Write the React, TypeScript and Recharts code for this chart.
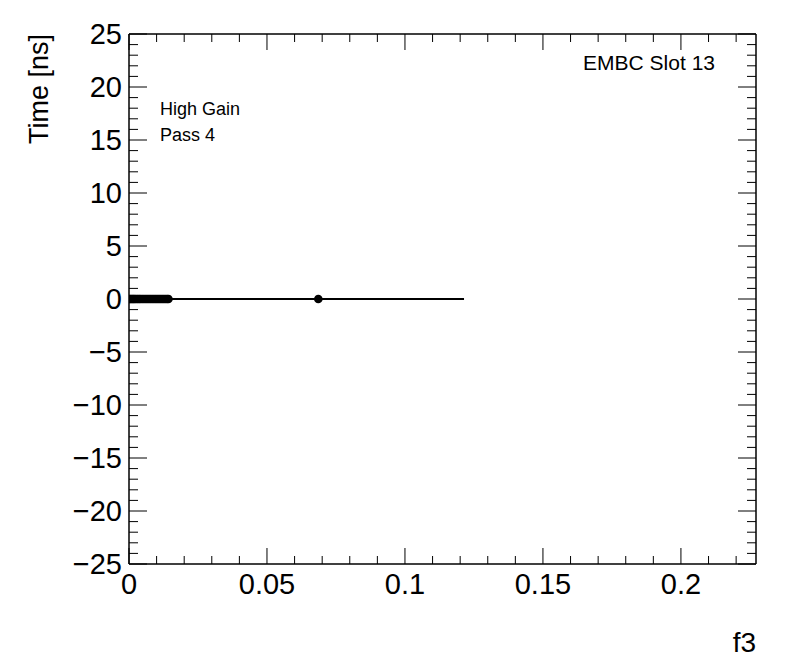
import React from "react";
import { ComposedChart, Scatter, XAxis, YAxis } from "recharts";

// measured points (f3 vs time), all sitting on zero
const pointX = [
  0.0002, 0.0006, 0.001, 0.0014, 0.0018, 0.0022, 0.0027, 0.0032, 0.0037, 0.0042,
  0.0048, 0.0054, 0.006, 0.0066, 0.0072, 0.0078, 0.0084, 0.009, 0.0096, 0.0102,
  0.0108, 0.0114, 0.012, 0.0126, 0.0132, 0.0138, 0.0143, 0.0686,
];
const pointY = [
  0, 0, 0, 0, 0, 0, 0, 0, 0, 0, 0, 0, 0, 0, 0, 0, 0, 0, 0, 0, 0, 0, 0, 0, 0, 0, 0, 0,
];
// fitted line
const fitX = [0, 0.1214];
const fitY = [0, 0];

const xMajor = [0, 0.05, 0.1, 0.15, 0.2];
const xTicks = [
  0, 0.01, 0.02, 0.03, 0.04, 0.05, 0.06, 0.07, 0.08, 0.09, 0.1, 0.11, 0.12, 0.13, 0.14,
  0.15, 0.16, 0.17, 0.18, 0.19, 0.2, 0.21, 0.22,
];
const yMajor = [-25, -20, -15, -10, -5, 0, 5, 10, 15, 20, 25];
const yTicks = [
  -25, -24, -23, -22, -21, -20, -19, -18, -17, -16, -15, -14, -13, -12, -11, -10, -9, -8,
  -7, -6, -5, -4, -3, -2, -1, 0, 1, 2, 3, 4, 5, 6, 7, 8, 9, 10, 11, 12, 13, 14, 15, 16,
  17, 18, 19, 20, 21, 22, 23, 24, 25,
];

const W = 796;
const H = 672;
const LEFT = 129;
const RIGHT = 756;
const TOP = 34;
const BOTTOM = 564;
const FONT = "'Liberation Sans', Arial, Helvetica, sans-serif";

const points = pointX.map((x, i) => ({ x, y: pointY[i] }));
const fit = fitX.map((x, i) => ({ x, y: fitY[i] }));

const isMajor = (v: number, list: number[]) => list.some((m) => Math.abs(m - v) < 1e-9);
const fmt = (v: number) => (v < 0 ? "\u2212" + String(-v) : String(v));

const XBottomTick = (props: any) => {
  const { x, payload } = props;
  const major = isMajor(payload.value, xMajor);
  return (
    <g>
      <line x1={x} x2={x} y1={BOTTOM} y2={BOTTOM - (major ? 16 : 8)} stroke="#000" strokeWidth={1} />
      {major && (
        <text x={x} y={594} textAnchor="middle" fontSize={29} fontFamily={FONT} fill="#000">
          {fmt(payload.value)}
        </text>
      )}
    </g>
  );
};

const XTopTick = (props: any) => {
  const { x, payload } = props;
  const major = isMajor(payload.value, xMajor);
  return <line x1={x} x2={x} y1={TOP} y2={TOP + (major ? 16 : 8)} stroke="#000" strokeWidth={1} />;
};

const YLeftTick = (props: any) => {
  const { y, payload } = props;
  const major = isMajor(payload.value, yMajor);
  return (
    <g>
      <line x1={LEFT} x2={LEFT + (major ? 18 : 9)} y1={y} y2={y} stroke="#000" strokeWidth={1} />
      {major && (
        <text x={122} y={y + 10} textAnchor="end" fontSize={29} fontFamily={FONT} fill="#000">
          {fmt(payload.value)}
        </text>
      )}
    </g>
  );
};

const YRightTick = (props: any) => {
  const { y, payload } = props;
  const major = isMajor(payload.value, yMajor);
  return <line x1={RIGHT} x2={RIGHT - (major ? 18 : 9)} y1={y} y2={y} stroke="#000" strokeWidth={1} />;
};

const Dot = (props: any) => <circle cx={props.cx} cy={props.cy} r={4.3} fill="#000" />;
const NoDot = () => <g />;

export default function App() {
  return (
    <div style={{ position: "absolute", left: 0, top: 0, width: W, height: H, background: "#fff" }}>
      <ComposedChart width={W} height={H} margin={{ top: TOP - 1, right: W - RIGHT - 1, bottom: 0, left: 0 }}>
        <XAxis
          xAxisId="b"
          dataKey="x"
          type="number"
          domain={[0, 0.2272]}
          allowDataOverflow
          ticks={xTicks}
          interval={0}
          height={H - BOTTOM}
          tickLine={false}
          tick={<XBottomTick />}
          axisLine={{ stroke: "#000", strokeWidth: 1.5 }}
        />
        <XAxis
          xAxisId="t"
          orientation="top"
          dataKey="x"
          type="number"
          domain={[0, 0.2272]}
          allowDataOverflow
          ticks={xTicks}
          interval={0}
          height={1}
          tickLine={false}
          tick={<XTopTick />}
          axisLine={{ stroke: "#000", strokeWidth: 1.5 }}
        />
        <YAxis
          yAxisId="l"
          dataKey="y"
          type="number"
          domain={[-25, 25]}
          allowDataOverflow
          ticks={yTicks}
          interval={0}
          width={LEFT}
          tickLine={false}
          tick={<YLeftTick />}
          axisLine={{ stroke: "#000", strokeWidth: 1.5 }}
        />
        <YAxis
          yAxisId="r"
          orientation="right"
          dataKey="y"
          type="number"
          domain={[-25, 25]}
          allowDataOverflow
          ticks={yTicks}
          interval={0}
          width={1}
          tickLine={false}
          tick={<YRightTick />}
          axisLine={{ stroke: "#000", strokeWidth: 1.5 }}
        />
        <Scatter
          data={fit}
          xAxisId="b"
          yAxisId="l"
          line={{ stroke: "#000", strokeWidth: 2 }}
          shape={<NoDot />}
          isAnimationActive={false}
        />
        <Scatter data={points} xAxisId="b" yAxisId="l" shape={<Dot />} isAnimationActive={false} />
      </ComposedChart>
      <svg
        width={W}
        height={H}
        style={{ position: "absolute", left: 0, top: 0, pointerEvents: "none" }}
        fontFamily={FONT}
      >
        <text
          transform="translate(48, 34) rotate(-90)"
          textAnchor="end"
          fontSize={27}
          fill="#000"
        >
          Time [ns]
        </text>
        <text x={RIGHT} y={652} textAnchor="end" fontSize={28} fill="#000">
          f3
        </text>
        <text x={715} y={70} textAnchor="end" fontSize={21} fill="#000">
          EMBC Slot 13
        </text>
        <text x={160} y={115} fontSize={18} fill="#000">
          High Gain
        </text>
        <text x={160} y={141} fontSize={18} fill="#000">
          Pass 4
        </text>
      </svg>
    </div>
  );
}
